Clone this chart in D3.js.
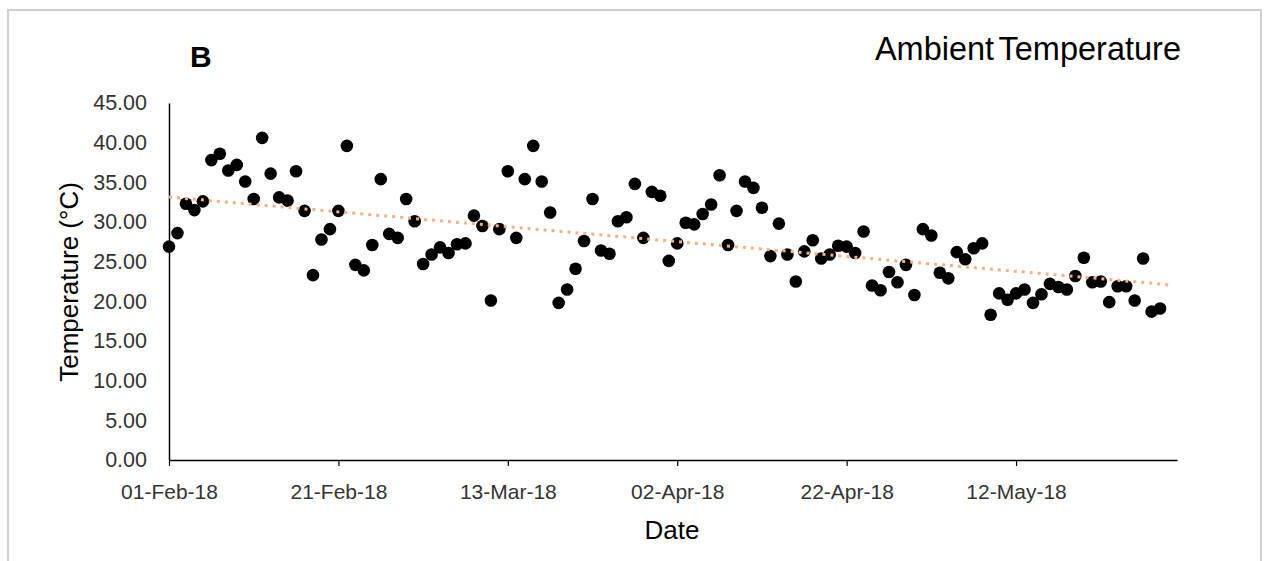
<!DOCTYPE html>
<html>
<head>
<meta charset="utf-8">
<script src="https://cdn.jsdelivr.net/npm/d3@7"></script>
<style>
  html, body { margin: 0; padding: 0; background: #fff; }
  svg { display: block; }
</style>
</head>
<body>
<svg id="chart" width="1267" height="561"></svg>
<script>
// ---- data ----
const startDate = "2018-02-01";           // first observation, daily series
const temperatures = [
  26.9, 28.6, 32.3, 31.5, 32.6, 37.8, 38.6, 36.5, 37.2, 35.1,
  32.9, 40.6, 36.1, 33.1, 32.7, 36.4, 31.4, 23.3, 27.8, 29.1,
  31.4, 39.6, 24.6, 23.9, 27.1, 35.4, 28.5, 28.0, 32.9, 30.1,
  24.7, 25.9, 26.8, 26.1, 27.2, 27.3, 30.8, 29.5, 20.1, 29.1,
  36.4, 28.0, 35.4, 39.6, 35.1, 31.2, 19.8, 21.5, 24.1, 27.6,
  32.9, 26.4, 26.0, 30.1, 30.6, 34.8, 28.0, 33.8, 33.3, 25.1,
  27.3, 29.9, 29.7, 31.0, 32.2, 35.9, 27.1, 31.4, 35.1, 34.3,
  31.8, 25.7, 29.8, 25.9, 22.5, 26.3, 27.7, 25.4, 25.9, 27.0,
  26.9, 26.1, 28.8, 22.0, 21.4, 23.7, 22.4, 24.6, 20.8, 29.1,
  28.3, 23.6, 22.9, 26.2, 25.3, 26.7, 27.3, 18.3, 21.0, 20.2,
  21.0, 21.5, 19.8, 20.9, 22.2, 21.8, 21.5, 23.2, 25.5, 22.4,
  22.5, 19.9, 21.9, 21.9, 20.1, 25.4, 18.7, 19.1
];
// linear trendline: [day offset, value]
const trendDays = [0, 118.5];
const trendValues = [33.15, 22.05];
const xDomain = ["2018-02-01", "2018-05-31"];
const xTickLabels = ["2018-02-01", "2018-02-21", "2018-03-13", "2018-04-02", "2018-04-22", "2018-05-12"];
const yTicks = [0, 5, 10, 15, 20, 25, 30, 35, 40, 45];
const titleText = "Ambient Temperature";
const panelLabel = "B";
const xTitle = "Date";
const yTitle = "Temperature (°C)";

// ---- build ----
const parse = d3.utcParse("%Y-%m-%d");
const t0 = parse(startDate);
const points = temperatures.map((v, i) => ({ date: d3.utcDay.offset(t0, i), value: v }));

const svg = d3.select("#chart");

// outer frame
svg.append("rect")
  .attr("x", 8).attr("y", 10).attr("width", 1253).attr("height", 560)
  .attr("fill", "none").attr("stroke", "#d0d0d0").attr("stroke-width", 2);

const x = d3.scaleUtc().domain(xDomain.map(parse)).range([169, 1177]);
const y = d3.scaleLinear().domain([0, 45]).range([460, 103]);

const tickFont = "Liberation Sans, Arial, sans-serif";

// x axis
const xAxis = svg.append("g").attr("transform", "translate(0,460)")
  .call(d3.axisBottom(x)
    .tickValues(xTickLabels.map(parse))
    .tickFormat(d3.utcFormat("%d-%b-%y"))
    .tickSize(6).tickSizeOuter(0).tickPadding(18));
xAxis.select(".domain").attr("stroke", "#000").attr("stroke-width", 1.5);
xAxis.selectAll(".tick line").attr("stroke", "#000").attr("stroke-width", 1.2);
xAxis.selectAll(".tick text")
  .attr("font-family", tickFont)
  .attr("font-size", 21).attr("fill", "#333");

// y axis
const yAxis = svg.append("g").attr("transform", "translate(169,0)")
  .call(d3.axisLeft(y)
    .tickValues(yTicks)
    .tickFormat(d3.format(".2f"))
    .tickSize(0).tickSizeOuter(0).tickPadding(22));
yAxis.select(".domain").attr("stroke", "#000").attr("stroke-width", 1.5);
yAxis.selectAll(".tick text")
  .attr("font-family", tickFont)
  .attr("font-size", 21.5).attr("fill", "#333");

// points
svg.append("g").selectAll("circle")
  .data(points).join("circle")
  .attr("cx", d => x(d.date))
  .attr("cy", d => y(d.value))
  .attr("r", 6.3)
  .attr("fill", "#000");

// trendline
const trend = trendDays.map((dd, i) => ({ date: new Date(t0.getTime() + dd * 864e5), value: trendValues[i] }));
svg.append("path")
  .datum(trend)
  .attr("d", d3.line().x(d => x(d.date)).y(d => y(d.value)))
  .attr("fill", "none")
  .attr("stroke", "#F4B183")
  .attr("stroke-width", 3)
  .attr("stroke-dasharray", "3 5");

// titles
svg.append("text")
  .attr("x", 190).attr("y", 67)
  .attr("font-family", "Liberation Sans, Arial, sans-serif")
  .attr("font-weight", "bold").attr("font-size", 30)
  .attr("fill", "#000").text(panelLabel);

svg.append("text")
  .attr("x", 1181).attr("y", 60)
  .attr("text-anchor", "end")
  .attr("font-family", "Liberation Sans, Arial, sans-serif")
  .attr("font-size", 32.5).attr("fill", "#000")
  .attr("word-spacing", -4)
  .text(titleText);

svg.append("text")
  .attr("x", 672).attr("y", 539)
  .attr("text-anchor", "middle")
  .attr("font-family", "Liberation Sans, Arial, sans-serif")
  .attr("font-size", 26).attr("fill", "#000")
  .text(xTitle);

svg.append("text")
  .attr("transform", "translate(78,282) rotate(-90)")
  .attr("text-anchor", "middle")
  .attr("font-family", "Liberation Sans, Arial, sans-serif")
  .attr("font-size", 26).attr("fill", "#000")
  .text(yTitle);
</script>
</body>
</html>
